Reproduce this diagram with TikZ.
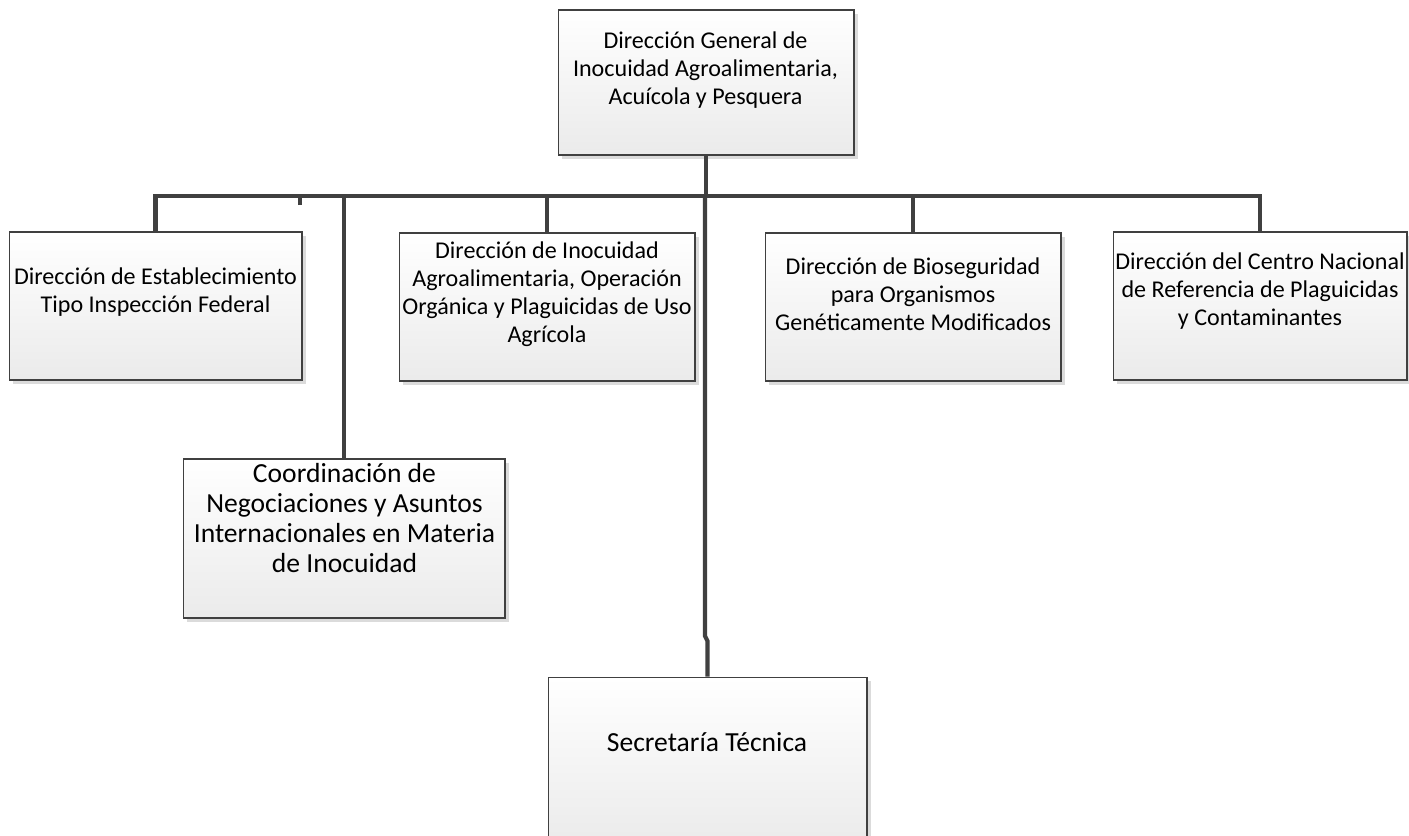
\documentclass[tikz,border=0pt]{standalone}
\usepackage{fontspec}
\setmainfont{Carlito}
\usepackage{tikz}
\usetikzlibrary{calc,backgrounds,shadows}

\begin{document}
\begin{tikzpicture}[x=0.02cm,y=-0.02cm]
 \tikzstyle{conn} = [draw=black!75,line width=2.3pt];
 \tikzstyle{caja} = [rectangle,draw=black!75,line width=0.6pt,inner sep=0pt,
                     top color=white,bottom color=black!8,
                     drop shadow={shadow xshift=2.4pt,shadow yshift=-2.4pt,fill=black!14,opacity=1}];
 \tikzstyle{texto} = [align=center,inner sep=0pt,font=\fontsize{13.7}{16}\selectfont];
 \tikzstyle{textoG} = [align=center,inner sep=0pt,font=\fontsize{15.7}{17}\selectfont];

 \useasboundingbox (0,0) rectangle (1409,835);

 % cajas
 \node[caja,name=dg,minimum width=5.92cm,minimum height=2.9cm] at (706,82.5) {};
 \node[caja,name=est,minimum width=5.86cm,minimum height=2.96cm] at (155.5,306) {};
 \node[caja,name=ino,minimum width=5.92cm,minimum height=2.96cm] at (547,307) {};
 \node[caja,name=bio,minimum width=5.92cm,minimum height=2.96cm] at (913,307) {};
 \node[caja,name=cen,minimum width=5.88cm,minimum height=2.96cm] at (1260,306) {};
 \node[caja,name=coo,minimum width=6.44cm,minimum height=3.18cm] at (344,538.5) {};
 \node[caja,name=sec,minimum width=6.38cm,minimum height=3.4cm] at (707.5,762) {};

 % textos
 \node[texto,name=dg-t] at (705.5,70)
   {Dirección General de\\Inocuidad Agroalimentaria,\\Acuícola y Pesquera};
 \node[texto,name=est-t] at (155.5,292)
   {Dirección de Establecimiento\\Tipo Inspección Federal};
 \node[texto,name=ino-t] at (547,294)
   {Dirección de Inocuidad\\Agroalimentaria, Operación\\Orgánica y Plaguicidas de Uso\\Agrícola};
 \node[texto,name=bio-t] at (913,294)
   {Dirección de Bioseguridad\\para Organismos\\Genéticamente Modificados};
 \node[texto,name=cen-t] at (1260,291)
   {Dirección del Centro Nacional\\de Referencia de Plaguicidas\\y Contaminantes};
 \node[textoG,name=coo-t] at (344.5,518)
   {Coordinación de\\Negociaciones y Asuntos\\Internacionales en Materia\\de Inocuidad};
 \node[textoG,name=sec-t] at (707,742) {Secretaría Técnica};

 % conectores
 \coordinate (bus) at (705,196);
 \coordinate (tick) at (300,205);
 \coordinate (jog) at (705,636);

 \draw[conn] (dg.south) -- (dg.south |- bus);
 \draw[conn] (est.north) -- (est.north |- bus) -- (cen.north |- bus) -- (cen.north);
 \draw[conn] (ino.north) -- (ino.north |- bus);
 \draw[conn] (bio.north) -- (bio.north |- bus);
 \draw[conn] (coo.north) -- (coo.north |- bus);
 \draw[conn] (tick) -- (tick |- bus);
 \draw[conn] (bus) -- (jog) -- (sec.north |- 0,641) -- (sec.north);
\end{tikzpicture}
\end{document}
